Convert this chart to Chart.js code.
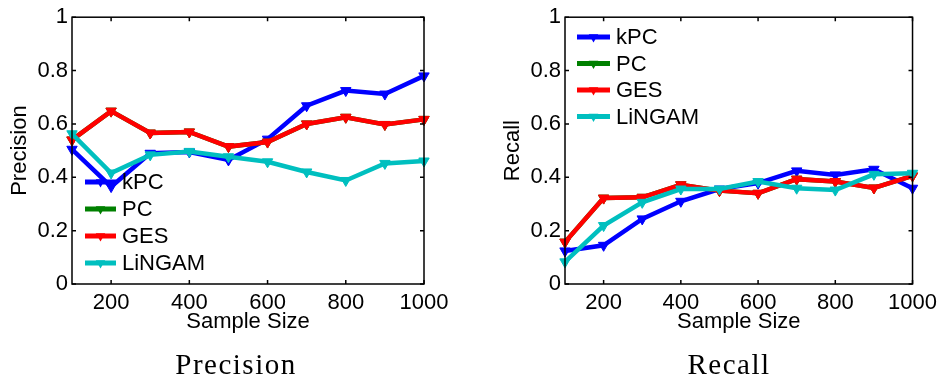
<!DOCTYPE html>
<html>
<head>
<meta charset="utf-8">
<script src="https://cdn.jsdelivr.net/npm/chart.js@4.4.1/dist/chart.umd.min.js"></script>
<style>
  html, body { margin: 0; padding: 0; background: #fff; }
  #page { position: relative; width: 943px; height: 376px; overflow: hidden; }
  .panel { position: absolute; top: 0; height: 376px; }
  .panel canvas { display: block; }
  .caption {
    position: absolute; top: 350px;
    font-family: "Liberation Serif", serif; font-size: 29px; line-height: 29px;
    letter-spacing: 1.5px; color: #000;
    transform: translateX(-50%); white-space: nowrap;
  }
</style>
</head>
<body>
<div id="page">
  <div class="panel" style="left:0;width:470px"><canvas id="precisionChart" width="470" height="376"></canvas></div>
  <div class="panel" style="left:470px;width:473px"><canvas id="recallChart" width="473" height="376"></canvas></div>
  <div class="caption" style="left:236px">Precision</div>
  <div class="caption" style="left:729px">Recall</div>
</div>
<script>
// sample sizes on the x axis
const sampleSizes = [100, 200, 300, 400, 500, 600, 700, 800, 900, 1000];
const xTicks = [200, 400, 600, 800, 1000];
const yTicks = [0, 0.2, 0.4, 0.6, 0.8, 1];

const methods = ["kPC", "PC", "GES", "LiNGAM"];
const methodColors = ["#0000ff", "#008000", "#ff0000", "#00bfbf"];

// precision per method
const kpcPrecision = [0.505, 0.365, 0.49, 0.495, 0.465, 0.543, 0.668, 0.725, 0.712, 0.78];
const pcPrecision = [0.54, 0.648, 0.566, 0.57, 0.515, 0.532, 0.6, 0.625, 0.598, 0.617];
const gesPrecision = [0.54, 0.648, 0.566, 0.57, 0.515, 0.532, 0.6, 0.625, 0.598, 0.617];
const lingamPrecision = [0.563, 0.416, 0.484, 0.497, 0.477, 0.458, 0.42, 0.388, 0.452, 0.461];

// recall per method
const kpcRecall = [0.124, 0.145, 0.244, 0.31, 0.356, 0.378, 0.424, 0.409, 0.43, 0.359];
const pcRecall = [0.157, 0.322, 0.325, 0.372, 0.35, 0.34, 0.393, 0.384, 0.36, 0.405];
const gesRecall = [0.157, 0.322, 0.325, 0.372, 0.35, 0.34, 0.393, 0.384, 0.36, 0.405];
const lingamRecall = [0.083, 0.219, 0.306, 0.356, 0.356, 0.384, 0.359, 0.352, 0.411, 0.415];

Chart.defaults.font.family = "'Liberation Sans', Arial, sans-serif";
Chart.defaults.font.size = 22;
Chart.defaults.color = "#000";

// box around the plot area with inward tick marks on all four sides
const frameTicks = {
  id: "frameTicks",
  afterDatasetsDraw(chart) {
    const { ctx, chartArea: a, scales } = chart;
    const len = 4;
    ctx.save();
    ctx.strokeStyle = "#000";
    ctx.lineWidth = 1.5;
    ctx.strokeRect(a.left, a.top, a.right - a.left, a.bottom - a.top);
    ctx.beginPath();
    xTicks.forEach(function (v) {
      const px = scales.x.getPixelForValue(v);
      ctx.moveTo(px, a.bottom); ctx.lineTo(px, a.bottom - len);
      ctx.moveTo(px, a.top); ctx.lineTo(px, a.top + len);
    });
    yTicks.forEach(function (v) {
      const py = scales.y.getPixelForValue(v);
      ctx.moveTo(a.left, py); ctx.lineTo(a.left + len, py);
      ctx.moveTo(a.right, py); ctx.lineTo(a.right - len, py);
    });
    ctx.stroke();
    ctx.restore();
  },
};

// legend without a box, placed inside the axes
const insideLegend = {
  id: "insideLegend",
  afterDraw(chart, args, opts) {
    const ctx = chart.ctx;
    ctx.save();
    chart.data.datasets.forEach(function (ds, i) {
      const y = opts.y + i * opts.rowHeight;
      const x0 = opts.x, x1 = opts.x + opts.lineLength, xm = (x0 + x1) / 2;
      ctx.strokeStyle = ds.borderColor;
      ctx.fillStyle = ds.borderColor;
      ctx.lineWidth = 5;
      ctx.beginPath();
      ctx.moveTo(x0, y); ctx.lineTo(x1, y);
      ctx.stroke();
      const r = 5.5;
      ctx.beginPath();
      ctx.moveTo(xm, y + r);
      ctx.lineTo(xm - r * 0.866, y - r / 2);
      ctx.lineTo(xm + r * 0.866, y - r / 2);
      ctx.closePath();
      ctx.fill();
      ctx.fillStyle = "#000";
      ctx.font = "22px 'Liberation Sans', Arial, sans-serif";
      ctx.textBaseline = "middle";
      ctx.fillText(ds.label, x1 + 6, y + 1);
    });
    ctx.restore();
  },
};

function makeDatasets(series) {
  return series.map(function (values, i) {
    return {
      label: methods[i],
      data: values,
      borderColor: methodColors[i],
      backgroundColor: methodColors[i],
      borderWidth: 4.5,
      pointStyle: "triangle",
      rotation: 180,
      pointRadius: 6,
      pointBorderWidth: 1,
      tension: 0,
      fill: false,
      clip: false,
      order: series.length - i,
    };
  });
}

function plainLabel(value) {
  return String(value);
}

function makeChart(canvasId, title, series, cfg) {
  const ctx = document.getElementById(canvasId).getContext("2d");
  return new Chart(ctx, {
    type: "line",
    data: { labels: sampleSizes, datasets: makeDatasets(series) },
    options: {
      responsive: false,
      animation: false,
      events: [],
      layout: { padding: { left: 0, right: cfg.padRight, top: 15, bottom: 41 } },
      plugins: {
        legend: { display: false },
        tooltip: { enabled: false },
        insideLegend: cfg.legend,
      },
      scales: {
        x: {
          type: "linear",
          min: 100,
          max: 1000,
          grid: { display: false, drawTicks: false },
          border: { display: false },
          afterBuildTicks: function (scale) {
            scale.ticks = xTicks.map(function (v) { return { value: v }; });
          },
          afterFit: function (scale) { scale.height = 51; },
          ticks: { padding: 6, maxRotation: 0, callback: plainLabel },
          title: { display: true, text: "Sample Size", padding: 0 },
        },
        y: {
          min: 0,
          max: 1,
          grid: { display: false, drawTicks: false },
          border: { display: false },
          afterBuildTicks: function (scale) {
            scale.ticks = yTicks.map(function (v) { return { value: v }; });
          },
          afterFit: function (scale) { scale.width = cfg.axisLeft; },
          ticks: { padding: 4, callback: plainLabel },
          title: { display: true, text: title, padding: { top: cfg.titlePad, bottom: 0 } },
        },
      },
    },
    plugins: [frameTicks, insideLegend],
  });
}

makeChart("precisionChart", "Precision",
  [kpcPrecision, pcPrecision, gesPrecision, lingamPrecision],
  { padRight: 46, axisLeft: 72, titlePad: 7,
    legend: { x: 85, y: 182, rowHeight: 27, lineLength: 31 } });

makeChart("recallChart", "Recall",
  [kpcRecall, pcRecall, gesRecall, lingamRecall],
  { padRight: 27, axisLeft: 95, titlePad: 30,
    legend: { x: 107, y: 37, rowHeight: 26.5, lineLength: 33 } });
</script>
</body>
</html>
